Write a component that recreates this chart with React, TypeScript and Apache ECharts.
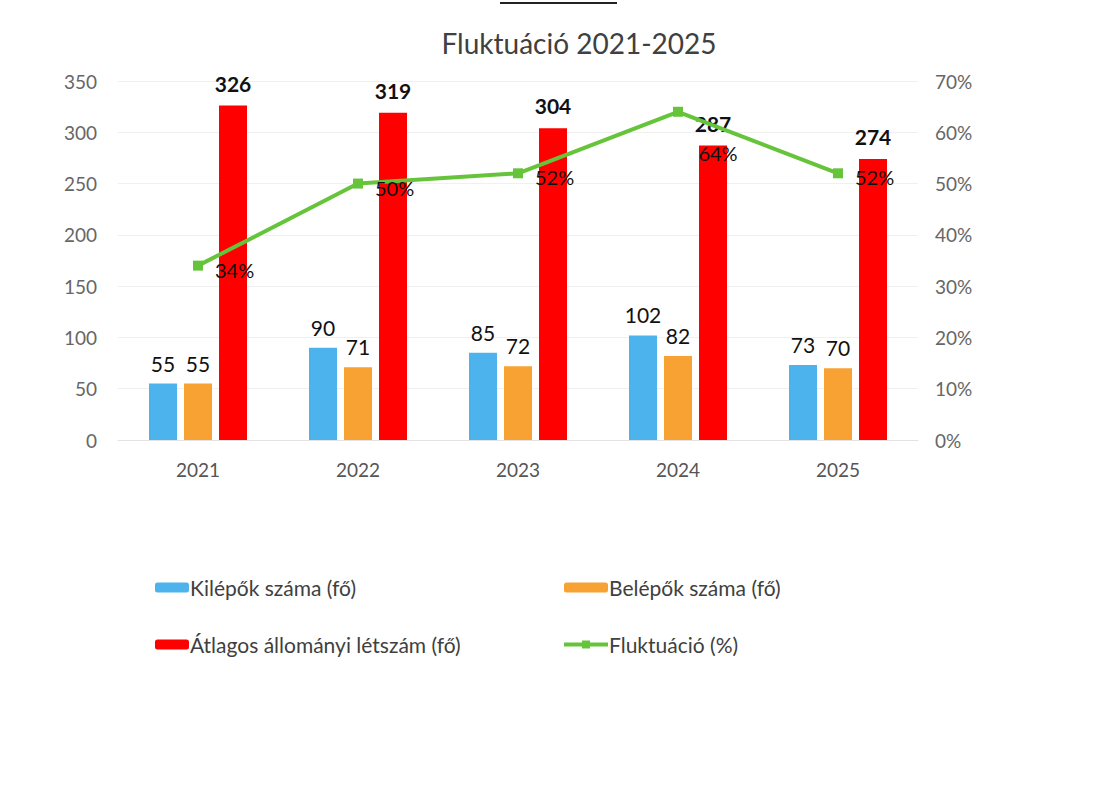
import React, { useEffect, useRef } from "react";
import * as echarts from "echarts";

const categories = ["2021", "2022", "2023", "2024", "2025"];
const kilepok = [55, 90, 85, 102, 73];
const belepok = [55, 71, 72, 82, 70];
const atlagos = [326, 319, 304, 287, 274];
const fluktuacio = [0.34, 0.5, 0.52, 0.64, 0.52];
const leftTicks = { min: 0, max: 350, interval: 50 };
const rightTicks = { min: 0, max: 0.7, interval: 0.1 };

const FONT = "Lato, 'Open Sans', sans-serif";

export default function App() {
  const ref = useRef<HTMLDivElement>(null);
  useEffect(() => {
    if (!ref.current) return;
    const chart = echarts.init(ref.current, undefined, { renderer: "svg" });
    const barLabel = {
      show: true,
      position: "top",
      distance: 10,
      color: "#111",
      fontSize: 21,
      fontFamily: FONT,
    };
    const lineData = fluktuacio.map((v, i) =>
      i === 3
        ? { value: v, label: { position: "bottom", distance: 30, offset: [40, -4] } }
        : v
    );
    chart.setOption({
      animation: false,
      backgroundColor: "#ffffff",
      textStyle: { fontFamily: FONT },
      title: {
        text: "Fluktuáció 2021-2025",
        left: 574,
        textAlign: "center",
        top: 24,
        textStyle: { color: "#404040", fontSize: 28, fontWeight: "normal", fontFamily: FONT },
      },
      graphic: [
        { type: "line", shape: { x1: 500, y1: 3, x2: 617, y2: 3 }, style: { stroke: "#222", lineWidth: 2 } },
      ],
      legend: [
        {
          left: 150,
          top: 572,
          orient: "vertical",
          itemGap: 36,
          itemWidth: 34,
          itemHeight: 10,
          data: ["Kilépők száma (fő)", "Átlagos állományi létszám (fő)"],
          textStyle: { color: "#404040", fontSize: 21, fontFamily: FONT, padding: [0, 0, 0, -4] },
        },
        {
          left: 557,
          top: 572,
          orient: "vertical",
          itemGap: 36,
          itemWidth: 44,
          itemHeight: 10,
          lineStyle: { width: 4 },
          data: ["Belépők száma (fő)", "Fluktuáció (%)"],
          textStyle: { color: "#404040", fontSize: 21, fontFamily: FONT, padding: [0, 0, 0, -4] },
        },
      ],
      grid: { left: 118, right: 189, top: 81, bottom: 352 },
      xAxis: {
        type: "category",
        data: categories,
        axisTick: { show: false },
        axisLine: { lineStyle: { color: "#e3e3e3" } },
        axisLabel: { color: "#555", fontSize: 19, margin: 20, fontFamily: FONT },
      },
      yAxis: [
        {
          type: "value",
          ...leftTicks,
          axisLabel: { color: "#666", fontSize: 19, margin: 21, fontFamily: FONT },
          splitLine: { lineStyle: { color: "#f0f0f0" } },
          axisLine: { show: false },
          axisTick: { show: false },
        },
        {
          type: "value",
          ...rightTicks,
          position: "right",
          axisLabel: {
            color: "#666",
            fontSize: 19,
            margin: 17,
            fontFamily: FONT,
            formatter: (v: number) => Math.round(v * 100) + "%",
          },
          splitLine: { show: false },
          axisLine: { show: false },
          axisTick: { show: false },
        },
      ],
      series: [
        {
          name: "Kilépők száma (fő)",
          type: "bar",
          data: kilepok,
          barWidth: 28,
          barGap: "25%",
          itemStyle: { color: "#4db3ec" },
          label: barLabel,
        },
        {
          name: "Belépők száma (fő)",
          type: "bar",
          data: belepok,
          barWidth: 28,
          barGap: "25%",
          itemStyle: { color: "#f8a233" },
          label: barLabel,
        },
        {
          name: "Átlagos állományi létszám (fő)",
          type: "bar",
          data: atlagos,
          barWidth: 28,
          barGap: "25%",
          itemStyle: { color: "#ff0000" },
          label: { ...barLabel, fontWeight: "bold", distance: 12 },
        },
        {
          name: "Fluktuáció (%)",
          type: "line",
          yAxisIndex: 1,
          data: lineData,
          symbol: "rect",
          symbolSize: 10,
          lineStyle: { color: "#66c43a", width: 4 },
          itemStyle: { color: "#66c43a" },
          z: 5,
          label: {
            show: true,
            position: "right",
            distance: 12,
            offset: [0, 4],
            color: "#111",
            fontSize: 20,
            fontFamily: FONT,
            formatter: (p: any) => Math.round(p.value * 100) + "%",
          },
        },
      ],
    });
    return () => chart.dispose();
  }, []);
  return (
    <div
      ref={ref}
      style={{ position: "fixed", left: 0, top: 0, width: 1107, height: 792 }}
    />
  );
}
